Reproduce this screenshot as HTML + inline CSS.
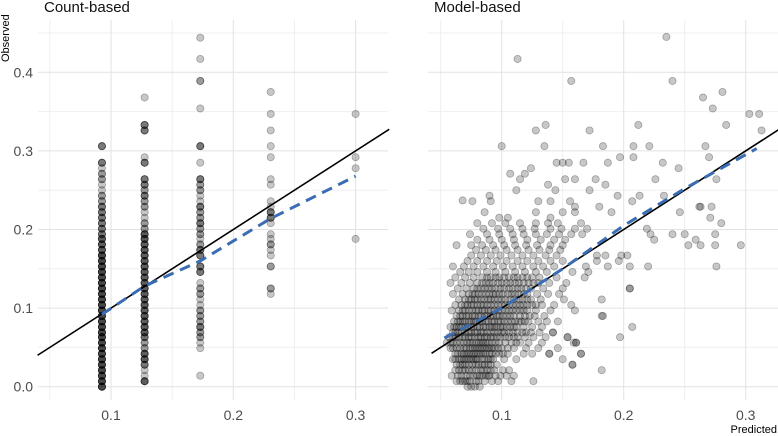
<!DOCTYPE html>
<html><head><meta charset="utf-8"><style>
html,body{margin:0;padding:0;background:#fff;}
svg{display:block;font-family:"Liberation Sans Narrow","Liberation Sans",sans-serif;}
</style></head><body>
<svg id="c" width="778" height="436" viewBox="0 0 778 436"></svg>
<script>
// ---- data ----
const yTicks = [0.0, 0.1, 0.2, 0.3, 0.4];
const yTickLabels = ["0.0", "0.1", "0.2", "0.3", "0.4"];
const xTicks = [0.1, 0.2, 0.3];
const xTickLabels = ["0.1", "0.2", "0.3"];
const yMinor = [0.05, 0.15, 0.25, 0.35, 0.45];
const xMinor = [0.05, 0.15, 0.25];

const countBins = [0.0926, 0.1275, 0.173, 0.2306, 0.3];
const countObs1 = [0.000,0.007,0.014,0.021,0.028,0.035,0.042,0.049,0.056,0.063,0.069,0.076,0.083,0.090,0.097,0.104,0.111,0.118,0.125,0.132,0.139,0.146,0.153,0.160,0.167,0.174,0.181,0.188,0.194,0.201,0.208,0.215,0.222,0.229,0.236,0.243,0.250,0.257,0.264,0.271,0.278,0.285,0.306];
const countN1 = [5,5,5,5,5,5,5,5,5,5,5,5,5,5,5,5,5,5,5,5,5,5,5,5,5,4,4,4,3,3,3,3,3,3,2,2,1,1,2,2,1,3,3];
const countObs2 = [0.007,0.014,0.021,0.028,0.035,0.042,0.049,0.056,0.063,0.069,0.076,0.083,0.090,0.097,0.104,0.111,0.118,0.125,0.132,0.139,0.146,0.153,0.160,0.167,0.174,0.181,0.188,0.194,0.201,0.208,0.215,0.222,0.229,0.236,0.243,0.250,0.257,0.264,0.285,0.292,0.326,0.333,0.368];
const countN2 = [4,1,1,3,4,4,2,2,3,4,4,4,4,4,4,4,4,4,4,4,4,4,4,4,4,4,4,4,2,2,1,1,2,2,3,2,3,3,3,1,3,3,1];
const countObs3 = [0.014,0.049,0.056,0.063,0.069,0.076,0.083,0.090,0.097,0.104,0.111,0.118,0.125,0.132,0.146,0.153,0.167,0.174,0.181,0.188,0.194,0.201,0.208,0.215,0.222,0.229,0.236,0.243,0.250,0.257,0.264,0.285,0.306,0.354,0.389,0.417,0.444];
const countN3 = [1,1,1,2,2,3,2,2,2,1,1,2,2,1,3,3,3,3,2,1,2,2,3,2,2,3,1,1,2,2,3,1,3,1,2,1,1];
const countObs4 = [0.118,0.125,0.153,0.167,0.174,0.181,0.188,0.194,0.208,0.215,0.222,0.229,0.236,0.257,0.264,0.292,0.306,0.326,0.347,0.375];
const countN4 = [1,2,2,1,1,2,1,1,1,3,3,1,1,1,1,1,1,1,1,1];
const countObs5 = [0.188,0.278,0.292,0.347];
const countN5 = [1,1,1,1];
const countSmoothX = [0.0926, 0.1275, 0.173, 0.2306, 0.3];
const countSmoothY = [0.092, 0.128, 0.160, 0.214, 0.268];

const modelLevels = [0.000,0.007,0.014,0.021,0.028,0.035,0.042,0.049,0.056,0.063,0.069,0.076,0.083,0.090,0.097,0.104,0.111,0.118,0.125,0.132,0.139,0.146,0.153,0.160,0.167,0.174,0.180,0.187,0.194,0.201,0.208];
const modelPredByLevel = [
[0.072,0.075,0.078,0.082],
[0.063,0.068,0.070,0.074,0.079,0.086,0.092,0.097,0.108,0.126],
[0.059,0.064,0.071,0.077,0.080,0.084,0.087,0.090,0.095,0.099,0.104,0.110],
[0.062,0.068,0.073,0.079,0.083,0.088,0.094,0.101,0.106,0.182],
[0.066,0.070,0.076,0.081,0.086,0.091,0.096,0.158],
[0.060,0.065,0.069,0.073,0.077,0.080,0.084,0.089,0.093,0.102,0.112,0.150],
[0.062,0.067,0.071,0.075,0.079,0.083,0.087,0.092,0.098,0.105,0.118,0.125,0.139,0.165],
[0.058,0.063,0.069,0.074,0.078,0.082,0.086,0.090,0.094,0.100,0.110,0.120,0.130,0.146],
[0.055,0.060,0.066,0.072,0.076,0.081,0.085,0.089,0.095,0.103,0.108,0.115,0.122,0.133,0.159,0.161],
[0.057,0.062,0.068,0.073,0.078,0.083,0.088,0.093,0.099,0.106,0.113,0.119,0.126,0.136,0.154,0.197],
[0.060,0.064,0.070,0.075,0.080,0.085,0.091,0.097,0.102,0.109,0.117,0.124,0.131,0.142],
[0.058,0.063,0.067,0.072,0.077,0.082,0.087,0.092,0.096,0.101,0.107,0.112,0.118,0.125,0.133,0.207],
[0.061,0.066,0.070,0.075,0.079,0.084,0.089,0.094,0.099,0.105,0.111,0.116,0.122,0.130,0.137,0.146],
[0.063,0.068,0.073,0.078,0.083,0.088,0.093,0.098,0.104,0.110,0.119,0.127,0.135,0.183],
[0.059,0.065,0.070,0.076,0.081,0.086,0.091,0.097,0.103,0.109,0.115,0.121,0.128,0.140,0.160],
[0.062,0.067,0.072,0.077,0.083,0.088,0.094,0.100,0.106,0.112,0.118,0.125,0.133,0.143,0.157],
[0.065,0.070,0.075,0.080,0.086,0.091,0.097,0.103,0.110,0.117,0.124,0.132,0.151,0.182],
[0.060,0.068,0.073,0.078,0.084,0.090,0.095,0.101,0.108,0.114,0.121,0.129,0.138,0.147],
[0.064,0.071,0.077,0.083,0.089,0.095,0.102,0.109,0.116,0.124,0.134,0.150,0.205],
[0.058,0.067,0.074,0.080,0.087,0.093,0.100,0.107,0.114,0.122,0.130,0.139,0.153],
[0.062,0.070,0.077,0.084,0.091,0.098,0.106,0.113,0.121,0.131,0.145,0.168],
[0.066,0.073,0.080,0.088,0.095,0.103,0.111,0.119,0.128,0.137,0.158,0.171],
[0.060,0.069,0.077,0.085,0.093,0.101,0.109,0.117,0.126,0.134,0.143,0.169,0.187,0.205,0.220,0.276],
[0.072,0.080,0.088,0.096,0.104,0.113,0.121,0.130,0.140,0.150,0.178,0.196],
[0.075,0.083,0.091,0.099,0.108,0.117,0.126,0.136,0.145,0.178,0.185,0.198,0.203],
[0.079,0.087,0.095,0.104,0.113,0.122,0.131,0.139,0.148],
[0.063,0.075,0.084,0.093,0.102,0.111,0.120,0.129,0.140,0.150,0.253,0.263,0.296,0.275],
[0.080,0.090,0.100,0.110,0.121,0.132,0.143,0.152,0.259,0.225],
[0.074,0.088,0.098,0.109,0.118,0.128,0.137,0.147,0.157,0.166,0.222,0.240,0.250,0.275],
[0.085,0.097,0.107,0.117,0.127,0.140,0.149,0.160,0.170,0.219],
[0.080,0.092,0.103,0.115,0.128,0.138,0.146,0.165,0.280]
];
// additional overlapping points in the dense core
const modelCoreLevels = [0.007,0.014,0.021,0.028,0.035,0.042,0.049,0.056,0.063,0.069,0.076,0.083,0.090,0.097,0.104,0.111,0.118,0.125,0.132,0.139];
const modelCorePredByLevel = [
[0.066,0.072,0.081],
[0.067,0.074,0.082,0.089],
[0.065,0.070,0.076,0.085,0.091],
[0.063,0.068,0.073,0.079,0.084,0.089],
[0.062,0.067,0.071,0.075,0.079,0.086,0.091],
[0.064,0.069,0.073,0.077,0.081,0.085,0.090,0.095,0.101],
[0.060,0.066,0.071,0.076,0.080,0.084,0.088,0.092,0.097,0.105],
[0.058,0.063,0.069,0.074,0.079,0.083,0.087,0.092,0.098,0.112],
[0.060,0.065,0.070,0.075,0.081,0.086,0.091,0.096,0.103,0.110],
[0.062,0.067,0.073,0.078,0.083,0.088,0.094,0.100,0.106,0.113,0.120],
[0.061,0.065,0.070,0.075,0.080,0.085,0.090,0.094,0.099,0.104,0.110],
[0.064,0.068,0.073,0.077,0.082,0.087,0.092,0.097,0.102,0.108,0.114,0.119],
[0.066,0.071,0.076,0.081,0.086,0.091,0.096,0.101,0.107,0.115,0.123],
[0.068,0.073,0.079,0.084,0.089,0.094,0.100,0.106,0.112,0.118],
[0.070,0.075,0.080,0.085,0.091,0.097,0.103,0.109,0.115,0.121,0.128],
[0.073,0.078,0.083,0.089,0.094,0.100,0.107,0.114,0.121],
[0.076,0.081,0.087,0.093,0.098,0.105,0.111,0.118],
[0.080,0.086,0.092,0.099,0.106,0.113,0.120],
[0.084,0.090,0.097,0.104,0.111,0.118,0.126],
[0.088,0.095,0.102,0.110,0.117,0.125]
];
const modelOutX = [0.235,0.113,0.157,0.240,0.265,0.281,0.273,0.284,0.303,0.311,0.313,0.128,0.136,0.172,0.212,0.100,0.135,0.183,0.208,0.221,0.267,0.270,0.197,0.208,0.150,0.145,0.155,0.167,0.187,0.232,0.245,0.124,0.107,0.119,0.076,0.115,0.138,0.152,0.160,0.177,0.226,0.276,0.144,0.112,0.172,0.185,0.195,0.213,0.233,0.068,0.090,0.130,0.140,0.160,0.156,0.091,0.086,0.098,0.105,0.128,0.140,0.150,0.160,0.180,0.190,0.207,0.246,0.263,0.272,0.262,0.271,0.205,0.182,0.165,0.161,0.139,0.158,0.154,0.142];
const modelOutY = [0.445,0.417,0.389,0.389,0.368,0.375,0.354,0.333,0.347,0.347,0.326,0.326,0.333,0.326,0.333,0.306,0.306,0.306,0.306,0.306,0.306,0.292,0.292,0.292,0.285,0.285,0.285,0.285,0.285,0.285,0.278,0.278,0.271,0.271,0.236,0.264,0.257,0.264,0.264,0.264,0.264,0.264,0.250,0.250,0.250,0.257,0.243,0.243,0.243,0.237,0.243,0.236,0.236,0.229,0.236,0.236,0.222,0.215,0.215,0.222,0.215,0.222,0.222,0.229,0.222,0.236,0.222,0.229,0.229,0.229,0.215,0.125,0.090,0.042,0.056,0.042,0.028,0.063,0.069];
const modelSmoothX = [0.053, 0.1, 0.15, 0.2, 0.25, 0.309];
const modelSmoothY = [0.062, 0.100, 0.150, 0.205, 0.252, 0.303];

// ---- layout ----
const NS = "http://www.w3.org/2000/svg";
const svg = document.getElementById("c");
const yScale = v => 386.7 - v * 786;
const panels = [
  {name:"count-based", left:38, right:388, x:v => 111 + (v - 0.1) * 1223, xMin:0.04, xMax:0.3275, title:"Count-based", tx:44},
  {name:"model-based", left:428, right:778, x:v => 501.7 + (v - 0.1) * 1220, xMin:0.0425, xMax:0.3295, title:"Model-based", tx:434}
];
function mk(tag, attrs, parent){
  const e = document.createElementNS(NS, tag);
  for (const k in attrs) e.setAttribute(k, attrs[k]);
  (parent || svg).appendChild(e);
  return e;
}
const TOP = 20, BOT = 400;

panels.forEach((p, pi) => {
  const g = mk("g", {});
  
  
  yMinor.forEach(v => { const y = yScale(v); if (y > TOP) { const l = mk("line", {x1:p.left, x2:p.right, y1:y, y2:y, stroke:"#efefef", "stroke-width":1}, g);
    
     } });
  xMinor.forEach(v => { const x = p.x(v); const l = mk("line", {x1:x, x2:x, y1:TOP, y2:BOT, stroke:"#efefef", "stroke-width":1}, g);
    
     });
  yTicks.forEach(v => { const y = yScale(v); const l = mk("line", {x1:p.left, x2:p.right, y1:y, y2:y, stroke:"#e2e2e2", "stroke-width":1}, g);
    
     });
  xTicks.forEach(v => { const x = p.x(v); const l = mk("line", {x1:x, x2:x, y1:TOP, y2:BOT, stroke:"#e2e2e2", "stroke-width":1}, g);
    
     });
  if (pi === 0) {
    yTicks.forEach((v, i) => { const t = mk("text", {x:33, y:yScale(v) + 5, "text-anchor":"end", "font-size":14, fill:"#4d4d4d"}, g);
      t.textContent = yTickLabels[i];
      
       });
  }
  xTicks.forEach((v, i) => { const t = mk("text", {x:p.x(v), y:420, "text-anchor":"middle", "font-size":14, fill:"#4d4d4d"}, g);
    t.textContent = xTickLabels[i];
    
     });
  const tt = mk("text", {x:p.tx, y:12, "font-size":15, fill:"#111"}, g);
  tt.textContent = p.title;
  
  
  p.g = g;
});

function dot(g, x, y){
  const c = mk("circle", {cx:x, cy:y, r:3.6, fill:"rgba(0,0,0,0.22)", stroke:"rgba(0,0,0,0.3)", "stroke-width":0.8}, g);
  
  
}
const P0 = panels[0], P1 = panels[1];
const cObs = [countObs1, countObs2, countObs3, countObs4, countObs5];
const cN = [countN1, countN2, countN3, countN4, countN5];
countBins.forEach((b, bi) => {
  cObs[bi].forEach((o, i) => { for (let k = 0; k < cN[bi][i]; k++) dot(P0.g, P0.x(b), yScale(o)); });
});
modelLevels.forEach((lv, li) => { modelPredByLevel[li].forEach(px => dot(P1.g, P1.x(px), yScale(lv))); });
modelCoreLevels.forEach((lv, li) => { modelCorePredByLevel[li].forEach(px => dot(P1.g, P1.x(px), yScale(lv))); });
modelOutX.forEach((px, i) => dot(P1.g, P1.x(px), yScale(modelOutY[i])));

panels.forEach((p, pi) => {
  const l = mk("line", {x1:p.x(p.xMin), y1:yScale(p.xMin), x2:p.x(p.xMax), y2:yScale(p.xMax), stroke:"#000", "stroke-width":1.6}, p.g);
  
  
  const sx = pi === 0 ? countSmoothX : modelSmoothX, sy = pi === 0 ? countSmoothY : modelSmoothY;
  const d = sx.map((v, i) => (i ? "L" : "M") + p.x(v).toFixed(1) + "," + yScale(sy[i]).toFixed(1)).join(" ");
  const s = mk("path", {d:d, fill:"none", stroke:"#3a6db3", "stroke-width":3, "stroke-dasharray":"11,7"}, p.g);
  
  
});

const yl = mk("text", {x:0, y:0, transform:"translate(9,62) rotate(-90)", "font-size":11, fill:"#000"});
yl.textContent = "Observed";


const xl = mk("text", {x:777, y:433, "text-anchor":"end", "font-size":11, fill:"#000"});
xl.textContent = "Predicted";


</script>
</body></html>
